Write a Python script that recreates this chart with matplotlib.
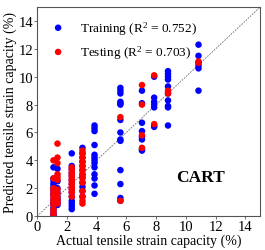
import matplotlib
matplotlib.use("Agg")
import matplotlib.pyplot as plt

plt.rcParams['font.family'] = ['Liberation Serif', 'DejaVu Serif']
plt.rcParams['mathtext.fontset'] = 'custom'
plt.rcParams['mathtext.rm'] = 'Liberation Serif'
plt.rcParams['mathtext.it'] = 'Liberation Serif:italic'

# Training data: actual column values and predicted values per column
train_cols = [1.1, 1.37, 2.33, 3.05, 3.86, 5.6, 7.05, 7.87, 8.8, 10.85]
train_pred = [
    [0.0, 0.1, 0.2, 0.4, 0.6, 0.8, 1.0, 1.2, 1.5, 1.7, 1.9, 2.1, 2.3, 2.5, 2.7, 3.5],
    [0.8, 1.0, 1.2, 1.4, 1.7, 2.0, 2.5, 3.4],
    [0.5, 0.7, 0.9, 1.1, 1.4, 1.7, 2.0, 2.3, 2.6, 2.9, 3.1, 3.4, 3.6, 4.5],
    [1.4, 1.8, 2.1, 2.4, 2.8, 3.0, 3.3, 3.6, 3.9, 4.2, 4.5, 4.9],
    [1.6, 2.2, 2.7, 3.0, 3.5, 3.8, 4.0, 4.2, 4.4, 5.1, 6.1, 6.3, 6.5],
    [1.1, 1.3, 2.3, 3.3, 5.4, 5.5, 6.0, 6.9, 8.0, 8.1, 8.2, 8.8, 9.0, 9.2],
    [4.7, 4.8, 5.5, 5.7, 6.1, 6.7, 8.1, 9.0],
    [6.4, 6.5, 7.8, 8.0, 8.2, 8.5, 10.0],
    [6.5, 7.8, 7.9, 8.3, 8.8, 9.3, 9.8, 10.0, 10.2, 10.4],
    [9.0, 10.6, 10.8, 11.0, 11.5, 12.3],
]

test_cols = [1.1, 1.37, 2.33, 3.05, 5.6, 7.05, 7.87, 8.8, 10.85]
test_pred = [
    [0.1, 0.3, 0.5, 0.8, 1.0, 1.2, 1.4, 1.6, 1.8, 2.0, 2.7, 4.0],
    [0.9, 1.1, 1.3, 1.6, 1.9, 2.6, 2.8, 3.0, 3.8, 4.2, 5.2],
    [1.4, 1.7, 1.9, 2.1, 2.3, 2.5, 2.7, 2.9, 3.1, 3.3, 3.5],
    [0.9, 1.1, 1.4, 1.8, 2.4, 2.7, 3.0, 3.3, 3.6, 3.9, 4.2, 4.5, 4.7],
    [1.1, 7.1],
    [4.9, 5.8, 8.0, 9.4],
    [6.6, 10.1],
    [8.8, 9.0],
    [11.0, 11.1],
]

train_label = "Training (R$^2$ = 0.752)"
test_label = "Testing (R$^2$ = 0.703)"
ticks = [0, 2, 4, 6, 8, 10, 12, 14]

def flatten(cols, preds):
    xs, ys = [], []
    for c, p in zip(cols, preds):
        xs += [c] * len(p)
        ys += p
    return xs, ys

trx, tr_y = flatten(train_cols, train_pred)
tex, te_y = flatten(test_cols, test_pred)

fig = plt.figure(figsize=(2.65, 2.51), dpi=100)
ax = fig.add_axes([0.14, 0.135, 0.842, 0.833])

ax.plot([0, 15], [0, 15], linestyle=(0, (2, 1.5)), color='#666666', linewidth=0.6, zorder=1)
ax.scatter(trx, tr_y, s=22, color='#0000ff', edgecolors='none', label=train_label, zorder=2)
ax.scatter(tex, te_y, s=22, color='#ff0000', edgecolors='none', label=test_label, zorder=3)

ax.set_xlim(0, 15)
ax.set_ylim(0, 15)
ax.set_xticks(ticks)
ax.set_yticks(ticks)
ax.tick_params(labelsize=10.5, length=2, width=0.6, color='#555555', pad=1)
for s in ax.spines.values():
    s.set_color('#555555')
    s.set_linewidth(0.8)

ax.set_xlabel("Actual tensile strain capacity (%)", fontsize=10, labelpad=0)
ax.set_ylabel("Predicted tensile strain capacity (%)", fontsize=10, labelpad=1)
ax.text(11.0, 2.8, "CART", fontsize=12.5, fontweight='bold', ha='center', va='center')

ax.legend(loc='upper left', bbox_to_anchor=(0.035, 0.968), frameon=False, fontsize=9.5,
          handlelength=1.2, handletextpad=1.07, borderaxespad=0.0,
          labelspacing=0.5, markerscale=1.0)

fig.savefig("out.png", dpi=100)
